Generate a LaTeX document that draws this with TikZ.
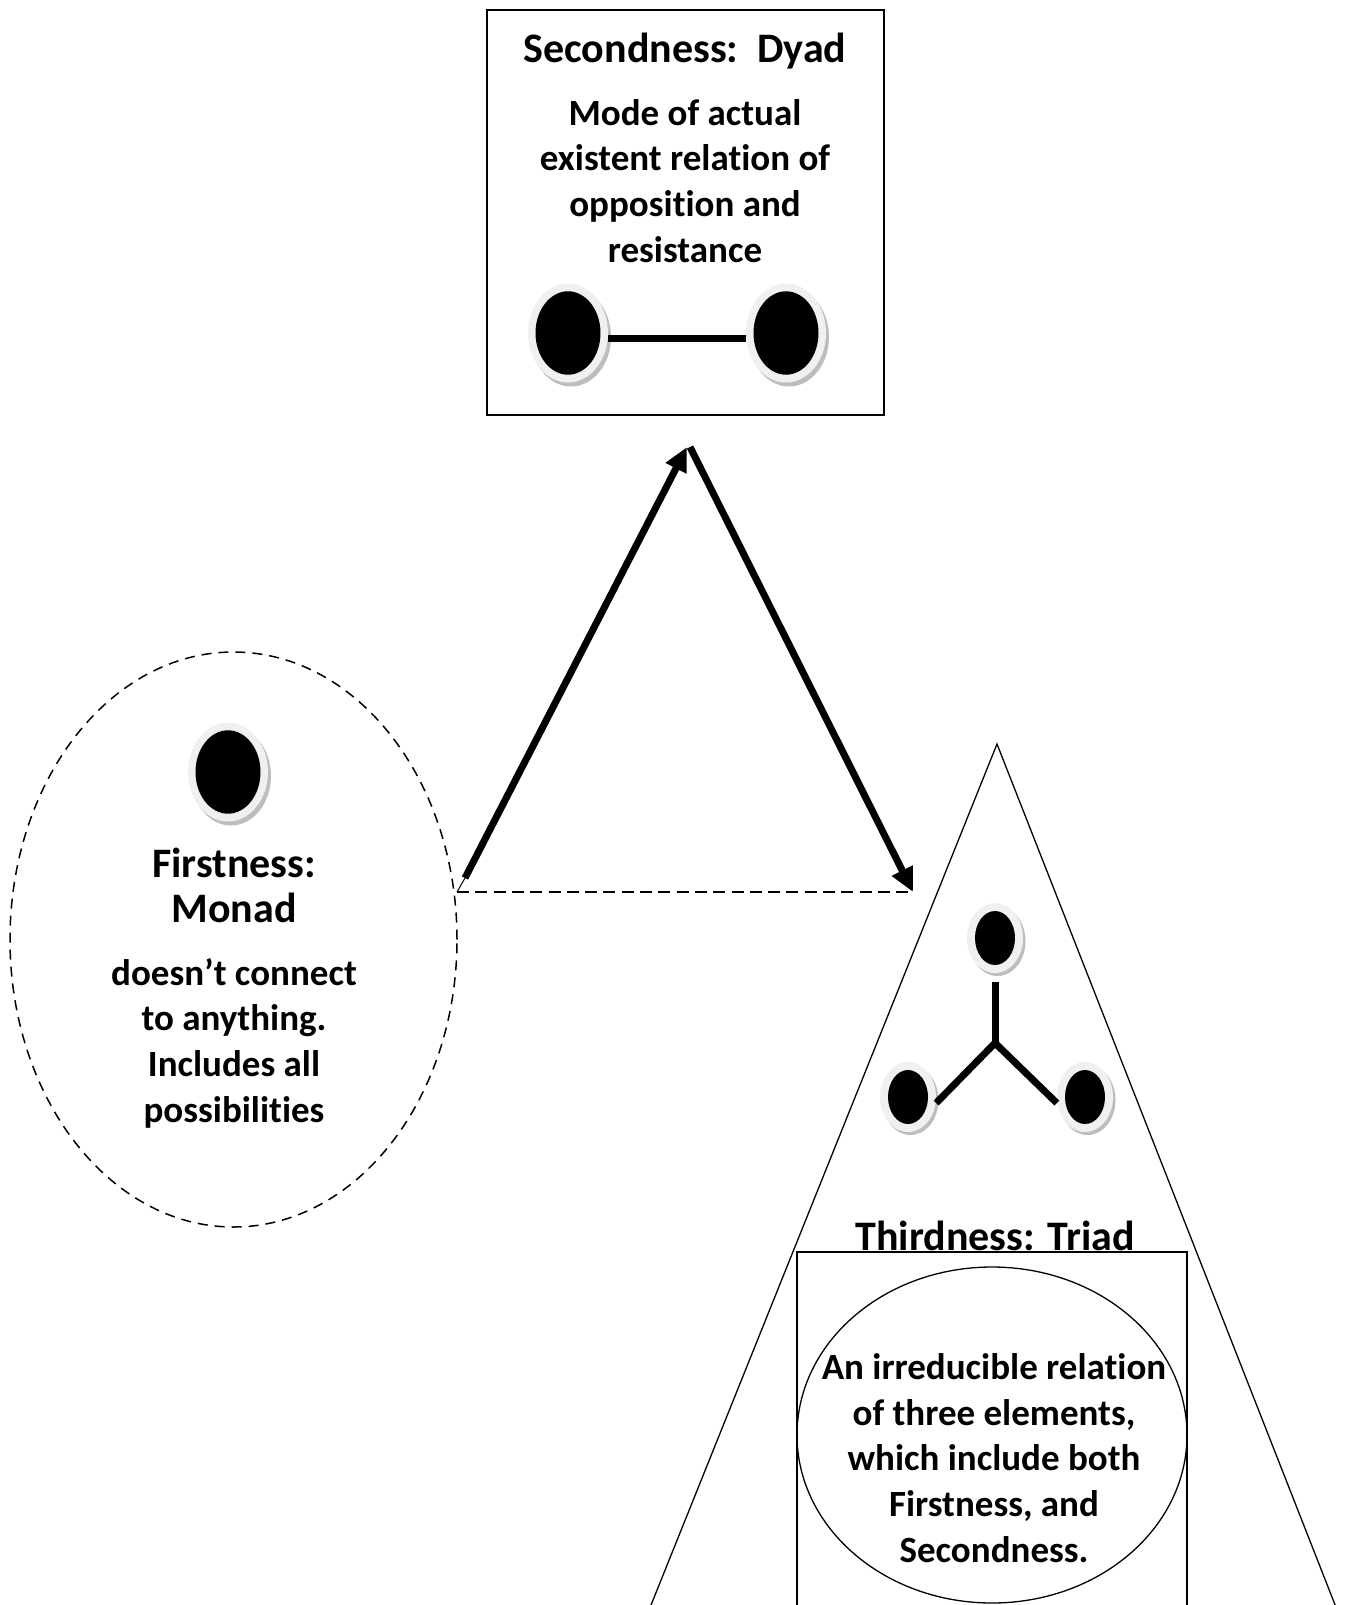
\documentclass[tikz,border=0pt]{standalone}
\usepackage{fontspec}
\setmainfont{Carlito}[Ligatures=NoCommon]
\usetikzlibrary{arrows.meta,shapes.geometric,shadows}
\definecolor{ringfill}{HTML}{F0F0F0}
\definecolor{ringshade}{HTML}{BDBDBD}
\begin{document}
\begin{tikzpicture}[x=1pt,y=-1pt,
  % multi-line text nodes are placed by the baseline of their last line
  body/.style={font=\fontsize{37}{45.6}\selectfont\bfseries, align=center, inner sep=0pt, anchor=base},
  head/.style={font=\fontsize{42}{45}\selectfont\bfseries, align=center, inner sep=0pt, anchor=base},
  bigdot/.style={ellipse, inner sep=0pt, minimum width=80pt, minimum height=99pt, fill=ringfill,
    drop shadow={shadow xshift=3pt, shadow yshift=-4pt, fill=ringshade, opacity=1},
    path picture={\fill[black] (path picture bounding box.center) ellipse [x radius=32.5pt, y radius=41.7pt];}},
  smalldot/.style={ellipse, inner sep=0pt, minimum width=56pt, minimum height=70pt, fill=ringfill,
    drop shadow={shadow xshift=2.5pt, shadow yshift=-3pt, fill=ringshade, opacity=1},
    path picture={\fill[black] (path picture bounding box.center) ellipse [x radius=20pt, y radius=27pt];}},
  link/.style={line width=7pt, line cap=butt},
  bigarrow/.style={line width=7pt, -{Triangle[length=24pt,width=22pt]}},
  thinline/.style={line width=1.3pt},
  dashline/.style={line width=1.4pt, dash pattern=on 12pt off 6.3pt},
  dashring/.style={line width=1.5pt, dash pattern=on 10pt off 7pt}]
\useasboundingbox (0,0) rectangle (1344,1605);

% Secondness box
\node[draw, thinline, rectangle, minimum width=397pt, minimum height=405pt, inner sep=0pt] (second) at (685.5,212.5) {};
\node[head] (secondtitle) at (685,63) {Secondness:\ \ Dyad};
\node[body] (secondtext) at (685,262) {Mode of actual\\existent relation of\\opposition and\\resistance};
\node[bigdot] (dl) at (568,333) {};
\node[bigdot] (dr) at (786,333) {};
\draw[link] ([yshift=-5pt]dl.east) -- ([yshift=-5pt]dr.west);

% Firstness ellipse
\node[draw, dashring, ellipse, minimum width=447pt, minimum height=575pt, inner sep=0pt] (first) at (233.5,939.5) {};
\node[bigdot] (mono) at (228,772) {};
\node[head] (firsttitle) at (234,922) {Firstness:\\Monad};
\node[body] (firsttext) at (234,1122) {doesn’t connect\\to anything.\\Includes all\\possibilities};

% Arrows of the cycle
\coordinate (c0) at (457,892);
\coordinate (c1) at (465,878);
\coordinate (apex) at (687,447);
\coordinate (apexr) at (690,447);
\coordinate (c2) at (913,892);
\draw[dashline] (c0) -- (c2);
\draw[line width=1pt] (c0) -- (c1);
\draw[bigarrow] (c1) -- (apex);
\draw[bigarrow] (apexr) -- (c2);

% Thirdness triangle
\coordinate (tA) at (997,744);
\coordinate (tL) at (645,1620);
\coordinate (tR) at (1341,1620);
\draw[thinline] (tL) -- (tA) -- (tR);
\node[smalldot] (tt) at (995,938) {};
\node[smalldot] (tbl) at (908,1097) {};
\node[smalldot] (tbr) at (1085,1097) {};
\coordinate (junc) at (995,1043);
\draw[link] (junc) -- ([yshift=-9pt]tt.south);
\draw[link] (junc) -- ([yshift=-6pt]tbl.east);
\draw[link] (junc) -- ([yshift=-6pt]tbr.west);
\node[head] (thirdtitle) at (995,1250) {Thirdness: Triad};
\draw[thinline] (797,1620) |- (1187,1252) -- (1187,1620);
\node[draw, thinline, ellipse, minimum width=390pt, minimum height=336pt, inner sep=0pt] (thirdring) at (992,1435) {};
\node[body] (thirdtext) at (994,1562) {An irreducible relation\\of three elements,\\which include both\\Firstness, and\\Secondness.};
\end{tikzpicture}
\end{document}
